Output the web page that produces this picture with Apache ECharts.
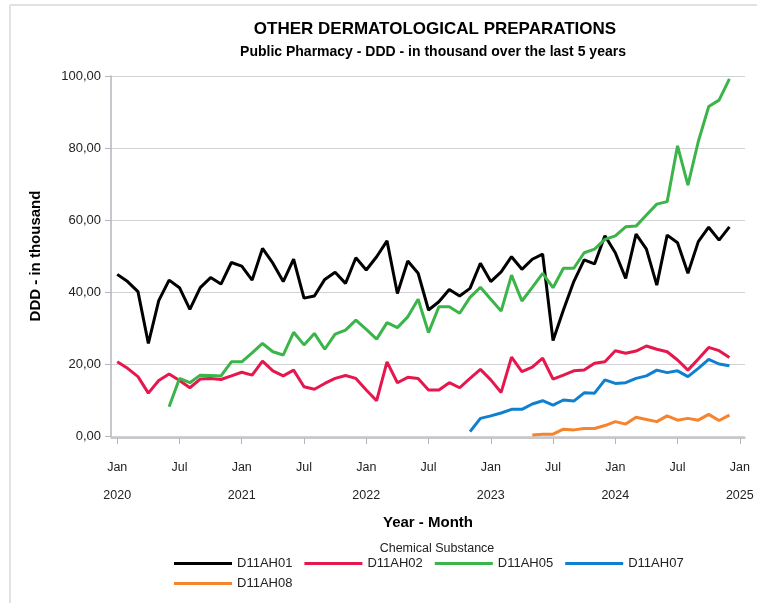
<!DOCTYPE html>
<html>
<head>
<meta charset="utf-8">
<script src="https://cdn.jsdelivr.net/npm/echarts@6/dist/echarts.min.js"></script>
<style>
  html, body { margin: 0; padding: 0; background: #fff; }
  #chart { width: 757px; height: 603px; }
</style>
</head>
<body>
<div id="chart"></div>
<script>
// months Jan 2020 .. Dec 2024 (index 0..59)
var startYear = 2020
var tickMonths = [0, 6, 12, 18, 24, 30, 36, 42, 48, 54, 60]
var yTicks = [0, 20, 40, 60, 80, 100]

var d11ah01 = [
  44.9, 42.9, 40.1, 25.7, 37.6, 43.3, 41.2, 35.2, 41.2, 44.0, 42.2, 48.2,
  47.2, 43.3, 52.1, 48.0, 42.9, 49.1, 38.3, 38.9, 43.5, 45.5, 42.4, 49.5,
  46.1, 49.8, 54.2, 39.6, 48.6, 45.2, 35.0, 37.3, 40.7, 38.9, 41.0, 48.0,
  42.9, 45.6, 49.8, 46.3, 49.1, 50.5, 26.5, 35.0, 42.9, 48.9, 47.8, 55.6,
  50.9, 43.8, 56.1, 51.9, 41.9, 55.8, 53.7, 45.2, 54.0, 58.0, 54.4, 58.1
]
var d11ah02 = [
  20.6, 18.8, 16.5, 11.9, 15.4, 17.2, 15.4, 13.4, 15.8, 16.0, 15.7, 16.7,
  17.7, 16.9, 20.8, 18.1, 16.7, 18.3, 13.7, 13.0, 14.6, 16.0, 16.8, 16.0,
  12.8, 9.8, 20.6, 14.8, 16.3, 16.0, 12.8, 12.8, 14.8, 13.4, 16.0, 18.5,
  15.6, 12.1, 21.9, 17.9, 19.1, 21.6, 15.8, 16.9, 18.1, 18.3, 20.2, 20.6,
  23.7, 23.0, 23.6, 25.0, 24.1, 23.4, 21.1, 18.3, 21.4, 24.6, 23.7, 21.8
]
var d11ah05 = [
  null, null, null, null, null, 8.1, 16.0, 14.8, 16.9, 16.8, 16.7, 20.6,
  20.6, 23.1, 25.7, 23.4, 22.5, 28.8, 25.3, 28.5, 24.1, 28.3, 29.4, 32.2,
  29.6, 26.9, 31.5, 30.1, 33.1, 38.0, 28.7, 35.9, 35.9, 34.1, 38.5, 41.3,
  38.0, 34.7, 44.7, 37.5, 41.3, 45.2, 41.2, 46.6, 46.6, 50.9, 51.9, 54.6,
  55.6, 58.1, 58.3, 61.4, 64.4, 65.1, 80.6, 69.7, 81.8, 91.5, 93.3, 99.2
]
var d11ah07 = [
  null, null, null, null, null, null, null, null, null, null, null, null,
  null, null, null, null, null, null, null, null, null, null, null, null,
  null, null, null, null, null, null, null, null, null, null, 1.2, 4.9,
  5.6, 6.4, 7.4, 7.4, 8.9, 9.8, 8.6, 10.0, 9.7, 12.0, 11.9, 15.6,
  14.6, 14.8, 16.0, 16.7, 18.3, 17.6, 18.1, 16.5, 18.8, 21.3, 20.0, 19.5
]
var d11ah08 = [
  null, null, null, null, null, null, null, null, null, null, null, null,
  null, null, null, null, null, null, null, null, null, null, null, null,
  null, null, null, null, null, null, null, null, null, null, null, null,
  null, null, null, null, 0.3, 0.5, 0.5, 1.9, 1.7, 2.1, 2.1, 2.9,
  4.0, 3.3, 5.2, 4.6, 4.0, 5.6, 4.4, 4.9, 4.4, 6.0, 4.3, 5.8
]

var names = ['D11AH01', 'D11AH02', 'D11AH05', 'D11AH07', 'D11AH08']
var colors = ['#000000', '#e5174d', '#3bb44a', '#0f80cf', '#f5842e']
var values = [d11ah01, d11ah02, d11ah05, d11ah07, d11ah08]

var font = '"Liberation Sans", Arial, sans-serif'

function toPairs (arr) {
  return arr.map(function (v, i) { return [i, v] })
}

var myChart = echarts.init(document.getElementById('chart'))

var series = names.map(function (n, k) {
  return {
    name: n,
    type: 'line',
    data: toPairs(values[k]),
    showSymbol: false,
    symbol: 'none',
    connectNulls: false,
    lineStyle: { width: 3, color: colors[k] },
    itemStyle: { color: colors[k] },
    emphasis: { disabled: true }
  }
})

var option = {
  backgroundColor: '#fff',
  animation: false,
  textStyle: { fontFamily: font },
  title: [
    {
      text: 'OTHER DERMATOLOGICAL PREPARATIONS',
      left: 430,
      top: 16,
      textAlign: 'center',
      textStyle: { fontSize: 17, fontWeight: 'bold', color: '#000', fontFamily: font }
    },
    {
      text: 'Public Pharmacy - DDD - in thousand over the last 5 years',
      left: 428,
      top: 40,
      textAlign: 'center',
      textStyle: { fontSize: 14, fontWeight: 'bold', color: '#000', fontFamily: font }
    },
    {
      text: 'Chemical Substance',
      left: 432,
      top: 537,
      textAlign: 'center',
      textStyle: { fontSize: 12.5, fontWeight: 'normal', color: '#222', fontFamily: font }
    }
  ],
  graphic: [
    { type: 'line', shape: { x1: 10, y1: 5, x2: 10, y2: 603 }, style: { stroke: '#e2e2e2', lineWidth: 2 } },
    { type: 'line', shape: { x1: 10, y1: 5, x2: 757, y2: 5 }, style: { stroke: '#e2e2e2', lineWidth: 2 } }
  ],
  legend: [
    {
      data: names.slice(0, 4),
      left: 174,
      top: 557,
      padding: 0,
      icon: 'rect',
      itemWidth: 58,
      itemHeight: 3,
      itemGap: 12,
      textStyle: { fontSize: 13, color: '#222', fontFamily: font }
    },
    {
      data: names.slice(4),
      left: 174,
      top: 577,
      padding: 0,
      icon: 'rect',
      itemWidth: 58,
      itemHeight: 3,
      textStyle: { fontSize: 13, color: '#222', fontFamily: font }
    }
  ],
  grid: {
    left: 111,
    right: 12,
    top: 76,
    bottom: 167,
    containLabel: false
  },
  xAxis: {
    type: 'value',
    min: -0.6,
    max: 60.5,
    name: 'Year - Month',
    nameLocation: 'middle',
    nameGap: 74,
    nameTextStyle: { fontSize: 15, fontWeight: 'bold', color: '#000', fontFamily: font },
    offset: 2,
    axisLine: { show: true, onZero: false, lineStyle: { color: '#b4b6bc', width: 1.5 } },
    axisTick: { show: true, length: 6, lineStyle: { color: '#b4b6bc' }, customValues: tickMonths },
    splitLine: { show: false },
    axisLabel: {
      customValues: tickMonths,
      margin: 16,
      fontSize: 12.5,
      color: '#222',
      lineHeight: 28,
      formatter: function (v) {
        var m = Math.round(v)
        if (m % 12 === 0) return 'Jan\n' + (startYear + m / 12)
        return 'Jul'
      },
      verticalAlign: 'top'
    }
  },
  yAxis: {
    type: 'value',
    min: 0,
    max: 100,
    interval: 20,
    name: 'DDD - in thousand',
    nameLocation: 'middle',
    nameGap: 68,
    nameTextStyle: { fontSize: 15, fontWeight: 'bold', color: '#000', fontFamily: font },
    axisLine: { show: true, onZero: false, lineStyle: { color: '#b4b6bc', width: 1.5 } },
    axisTick: { show: true, length: 6, lineStyle: { color: '#b4b6bc' } },
    splitLine: { show: true, lineStyle: { color: '#d2d2d6', width: 1.2 } },
    axisLabel: {
      margin: 10,
      fontSize: 13,
      color: '#222',
      formatter: function (v) { return v.toFixed(2).replace('.', ',') }
    }
  },
  series: series
}

myChart.setOption(option)
</script>
</body>
</html>
